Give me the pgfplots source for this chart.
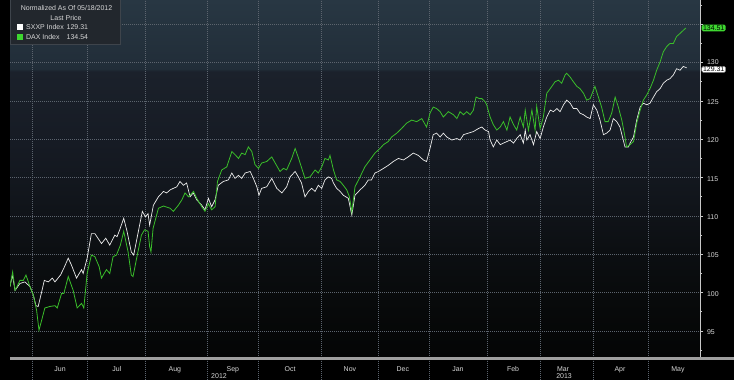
\documentclass[border=0pt]{standalone}
\usepackage{fontspec}
\setmainfont{Liberation Sans}
\usepackage{pgfplots}
\pgfplotsset{compat=1.18}
\definecolor{bbgreen}{RGB}{58,190,42}
\definecolor{tagreen}{RGB}{62,215,48}
\definecolor{bbwhite}{RGB}{236,236,236}
\definecolor{gridc}{RGB}{92,100,110}
\definecolor{labelc}{RGB}{215,215,215}
\definecolor{bbaxis}{RGB}{200,200,200}
\definecolor{legbg}{RGB}{34,39,45}
\definecolor{legbd}{RGB}{62,68,75}
\definecolor{bg0}{RGB}{4,5,5}
\definecolor{bg1}{RGB}{8,10,11}
\definecolor{bg2}{RGB}{12,15,18}
\definecolor{bg3}{RGB}{17,21,27}
\definecolor{bg4}{RGB}{22,27,36}
\definecolor{bg5}{RGB}{27,33,43}
\definecolor{bg6}{RGB}{33,45,56}
\definecolor{bg7}{RGB}{40,55,67}
\pgfdeclareverticalshading{bbshade}{100bp}{color(0bp)=(bg0); color(25bp)=(bg0); color(33bp)=(bg1); color(40bp)=(bg2); color(47bp)=(bg3); color(55bp)=(bg4); color(65bp)=(bg5); color(65.4bp)=(bg6); color(75bp)=(bg7); color(100bp)=(bg7)}

\pgfplotstableread{
t v
0 100.8
0.9 102.3
1.9 100.3
3.75 101.2
5.6 101.4
7.5 100.8
8.75 99.7
9.75 98.3
10.6 98.2
11.9 100.1
12.9 101.6
14.4 101.4
15.9 101.9
16.9 101.4
19.0 102.3
20.25 103.2
21.9 104.5
23.1 103.6
25.0 101.9
26.9 103.0
27.5 102.5
29.0 104.5
30.6 107.7
31.9 107.7
34.4 106.4
36.0 107.1
37.5 106.2
39.4 107.5
40.25 107.3
41.25 108.2
42.75 109.7
44.0 108.0
45.6 105.3
46.5 104.9
47.75 107.1
49.75 110.6
50.9 109.9
51.9 110.3
52.5 108.8
53.9 111.4
55.8 112.5
57.7 113.2
58.9 113.0
60.2 113.4
61.4 113.6
62.7 113.8
63.9 114.5
65.2 114.0
66.4 114.3
67.7 112.5
68.9 113.0
70.2 112.1
72.1 111.4
73.3 110.8
74.6 112.3
75.8 111.2
77.1 112.1
78.3 114.0
80.2 114.5
82.1 114.7
83.4 115.6
84.6 114.9
85.9 115.3
87.1 114.9
88.4 115.6
90.3 115.8
91.5 114.9
92.8 113.8
93.6 112.7
94.6 113.6
96.5 113.8
98.4 114.9
100.3 113.6
102.2 113.0
104.0 113.8
105.3 115.1
107.2 115.8
108.4 115.1
109.6 114.3
110.9 112.5
112.2 113.2
113.4 113.6
114.7 113.2
115.9 114.0
117.2 113.6
118.4 114.7
119.7 115.1
120.9 114.9
121.6 114.3
122.8 113.6
124.1 113.2
125.3 112.7
127.2 112.3
128.5 110.1
129.7 112.7
131.6 113.4
133.4 114.0
134.7 114.7
135.9 114.7
137.2 115.6
138.5 115.8
140.4 116.2
142.2 116.6
144.1 117.1
146.0 117.5
147.9 117.3
149.7 117.7
151.6 118.2
153.5 117.9
155.4 117.3
156.6 117.1
157.9 118.8
159.1 120.6
160.4 120.8
161.7 120.3
162.9 120.8
164.2 120.3
166.1 119.9
168.0 120.1
169.2 119.9
170.5 120.6
172.3 120.8
174.2 121.0
176.1 121.4
177.4 121.6
178.6 121.2
179.9 121.0
180.5 119.9
181.7 119.0
183.0 119.9
184.3 119.3
185.5 119.5
186.8 119.7
188.0 119.9
189.3 119.5
190.5 120.1
191.8 120.6
193.0 119.5
193.7 121.2
194.3 119.9
195.5 120.6
196.8 119.3
198.0 121.0
199.3 120.1
200.5 121.6
201.8 122.9
203.1 123.8
204.3 123.6
205.6 124.0
206.8 123.6
208.1 124.5
209.3 125.1
210.6 124.7
211.8 124.0
213.1 124.0
214.3 123.4
215.6 123.2
216.8 122.9
218.1 122.7
219.3 124.5
220.6 123.8
221.8 122.5
223.1 120.6
224.3 120.8
225.6 121.2
226.8 122.7
228.1 122.3
229.3 121.6
231.2 119.0
232.5 119.0
233.1 119.5
234.4 120.3
235.6 122.5
236.9 124.2
238.1 124.7
239.4 124.5
240.6 124.7
241.9 125.5
243.1 126.2
244.4 126.6
245.6 127.3
246.9 127.7
248.1 127.9
249.4 128.4
250.6 129.2
251.9 129.0
253.1 129.5
254.4 129.31
}\sxxp

\pgfplotstableread{
t v
0 100.8
1.0 102.7
1.9 100.3
3.75 101.6
5.0 101.6
6.0 102.3
7.5 100.8
8.75 99.7
10.0 97.7
10.9 95.1
11.9 96.4
13.1 98.0
15.0 98.2
16.9 98.3
17.75 98.0
19.4 99.9
20.25 99.9
21.9 102.1
23.75 100.3
25.25 98.0
26.9 98.6
27.75 98.0
29.0 102.5
30.6 104.9
31.9 104.7
33.5 103.4
34.4 101.9
36.25 103.0
37.5 102.5
38.75 104.7
40.0 104.9
41.5 106.2
42.75 108.0
44.4 105.3
45.6 102.3
46.25 102.1
47.5 104.3
49.4 107.5
50.6 108.2
51.9 108.0
52.5 106.0
53.0 105.3
53.8 108.4
55.8 111.0
57.7 111.3
60.2 111.0
61.4 110.6
63.3 111.4
64.6 112.1
65.8 113.0
67.1 112.5
69.0 113.2
70.2 112.3
72.1 111.2
73.3 110.6
74.6 111.6
75.8 110.8
77.1 111.2
78.0 114.5
79.6 116.0
81.5 116.4
83.4 118.4
84.6 118.0
85.9 117.5
87.1 118.2
88.4 118.0
89.6 119.0
90.9 118.4
92.1 116.7
93.4 116.2
94.6 116.9
96.5 117.1
98.4 117.7
99.7 116.9
101.5 115.8
102.8 116.2
104.0 116.0
105.9 117.5
107.2 118.8
108.5 117.5
110.9 114.9
112.8 115.1
114.7 116.0
115.9 115.6
117.2 116.4
118.4 117.5
119.7 117.3
120.3 117.9
121.6 116.0
122.8 114.7
124.1 114.5
125.3 114.0
126.6 113.4
127.6 112.5
128.5 110.5
129.7 113.8
131.6 115.1
133.4 116.4
135.3 117.3
137.2 118.2
139.1 118.8
140.4 119.3
142.2 119.7
143.5 120.3
145.4 120.8
147.2 121.4
149.1 122.1
151.0 122.5
152.9 122.3
154.8 122.7
156.6 121.6
157.9 123.4
159.1 124.2
160.4 124.0
161.7 123.6
162.9 122.9
164.8 123.6
166.7 123.2
168.0 122.7
169.2 123.6
170.5 123.2
171.7 123.6
173.0 123.2
174.2 123.8
175.2 125.5
176.5 125.3
177.4 125.3
178.6 124.9
179.2 124.5
180.5 122.9
181.7 121.9
183.0 121.2
184.3 121.6
185.5 122.3
186.8 121.2
188.0 122.9
189.3 121.9
190.5 121.2
191.8 122.9
193.0 121.6
193.7 123.8
194.9 121.2
196.2 123.8
197.4 121.2
198.0 124.3
199.3 121.4
200.5 122.9
201.8 126.0
203.1 126.6
204.9 127.5
206.2 127.7
207.4 127.3
208.7 128.4
209.3 128.6
210.6 128.1
211.8 127.5
213.1 126.9
214.3 126.6
215.6 126.0
216.8 125.1
218.1 125.3
219.9 126.9
221.2 125.5
222.4 124.2
223.7 122.3
224.9 122.3
226.2 123.4
227.5 125.5
228.7 124.2
230.0 122.5
231.2 120.3
231.8 119.0
233.1 119.3
234.4 119.7
235.6 122.1
236.9 123.8
238.1 125.1
239.4 125.8
240.6 126.6
241.9 127.7
243.1 129.0
244.4 130.1
245.6 131.4
246.9 132.1
248.1 132.5
249.4 132.5
250.6 133.4
251.9 133.8
253.1 134.2
254.1 134.51
}\dax

\begin{document}
\begin{tikzpicture}
\useasboundingbox (0,0) rectangle (734bp,380bp);
\fill[black] (0,0) rectangle (734bp,380bp);
\begin{axis}[
  at={(10bp,22bp)}, anchor=south west,
  scale only axis, width=690bp, height=358bp,
  xmin=0, xmax=259.4, ymin=91.48, ymax=138.16,
  clip mode=individual,
  axis line style={draw=none},
  axis background/.style={shade, shading=bbshade},
  xtick={18.8,40.2,62.0,83.8,105.3,127.8,147.7,168.4,189.1,207.9,229.3,251.1},
  xticklabels={Jun,Jul,Aug,Sep,Oct,Nov,Dec,Jan,Feb,Mar,Apr,May},
  minor xtick={8.27,28.95,50.75,74.06,93.23,116.9,138.35,157.5,179.3,199.25,219.2,239.85},
  xminorgrids=true, xmajorgrids=false,
  ytick={95,100,...,135}, minor ytick={92.5,97.5,...,137.5},
  yticklabels={95,100,105,110,115,120,125,\raisebox{2.8bp}{130},{}},
  ymajorgrids=true,
  xtick pos=bottom, ytick pos=right, yticklabel pos=right,
  tick align=outside,
  major tick length=3bp, minor tick length=2bp,
  tick style={color=bbaxis, line width=0.7bp},
  major x tick style={draw=none}, minor x tick style={draw=none},
  grid style={color=gridc, dash pattern=on 0.6bp off 1.4bp, line width=0.5bp},
  minor grid style={color=gridc, dash pattern=on 0.6bp off 1.4bp, line width=0.5bp},
  ticklabel style={font=\fontsize{7}{8}\selectfont, text=labelc},
  /pgf/number format/assume math mode=true,
  xticklabel style={yshift=-2bp},
  yticklabel style={xshift=0.5bp, yshift=-1.2bp},
]
\addplot[bbwhite, line width=0.7bp] table[x=t, y=v] {\sxxp};
\addplot[bbgreen, line width=0.8bp] table[x=t, y=v] {\dax};
\coordinate (gtag) at (axis cs:259.4,134.51);
\coordinate (wtag) at (axis cs:259.4,129.31);
\end{axis}
% axis lines
\draw[bbaxis, line width=0.7bp] (700bp,22bp) -- (700bp,380bp);
\fill[gray!75] (10bp,20bp) rectangle (734bp,22.7bp);
\foreach \xx in {32,87,145,207,258,321,378,429,487,540,593,648}
  \draw[gridc, dash pattern=on 0.6bp off 1.4bp, line width=0.5bp] (\xx bp,0bp) -- (\xx bp,20bp);
% year labels
\node[font=\fontsize{7}{8}\selectfont, text=labelc] at (219bp,4bp) {2012};
\node[font=\fontsize{7}{8}\selectfont, text=labelc] at (564bp,4bp) {2013};
% value tags
\node[fill=tagreen, text=black, rounded corners=1.5bp, inner xsep=1.3bp, inner ysep=0.9bp, anchor=west, font=\fontsize{7}{8}\selectfont] at ([xshift=1.5bp]gtag) {134.51};
\node[fill=white, draw=gray, line width=0.4bp, text=black, rounded corners=1.5bp, inner xsep=1.3bp, inner ysep=0.6bp, anchor=west, font=\fontsize{7}{8}\selectfont] at ([xshift=1.5bp,yshift=-1.5bp]wtag) {129.31};
% legend
\filldraw[fill=legbg, draw=legbd, line width=0.5bp] (10bp,336bp) rectangle (120bp,380.5bp);
\node[font=\fontsize{7}{8}\selectfont, text=labelc, anchor=base] at (66.5bp,369.5bp) {Normalized As Of 05/18/2012};
\node[font=\fontsize{7}{8}\selectfont, text=labelc, anchor=base] at (66bp,359.5bp) {Last Price};
\fill[white] (17bp,350bp) rectangle (22.5bp,355.5bp);
\node[font=\fontsize{7}{8}\selectfont, text=labelc, anchor=base west, inner sep=0pt] at (26bp,350.5bp) {SXXP Index};
\node[font=\fontsize{7}{8}\selectfont, text=labelc, anchor=base west, inner sep=0pt] at (66.5bp,350.5bp) {129.31};
\fill[tagreen] (17bp,340bp) rectangle (22.5bp,345.5bp);
\node[font=\fontsize{7}{8}\selectfont, text=labelc, anchor=base west, inner sep=0pt] at (26bp,340.5bp) {DAX Index};
\node[font=\fontsize{7}{8}\selectfont, text=labelc, anchor=base west, inner sep=0pt] at (66.5bp,340.5bp) {134.54};
\end{tikzpicture}
\end{document}
